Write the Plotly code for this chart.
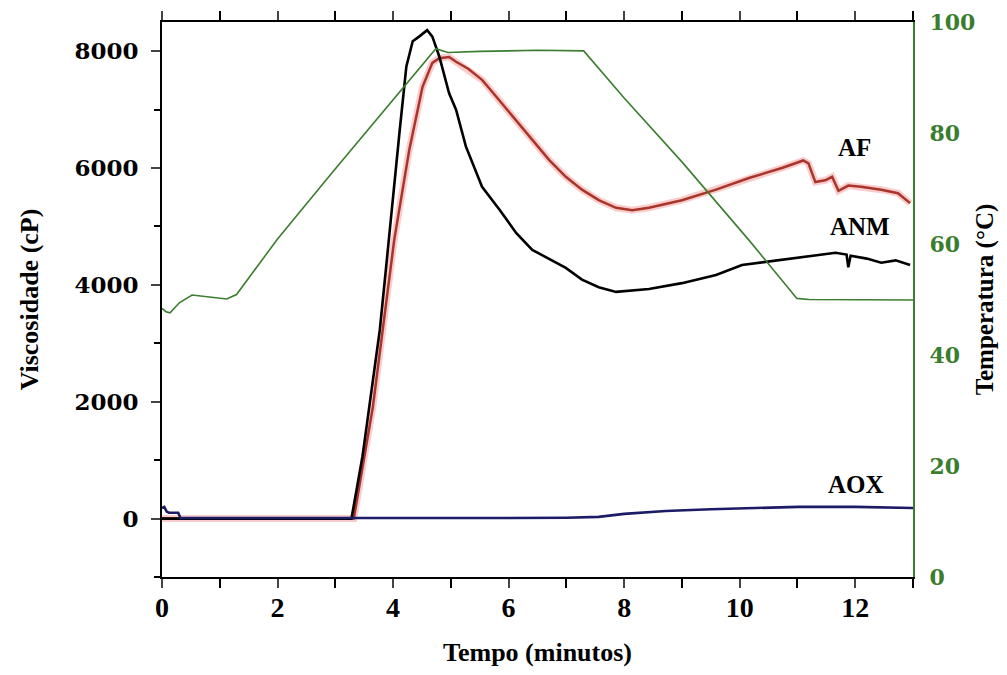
import plotly.graph_objects as go

# ---- data ----
t_temp = [0, 0.07, 0.14, 0.3, 0.52, 0.8, 1.12, 1.29, 2.0, 2.94, 4.0, 4.6, 4.74, 4.95, 5.5, 6.5, 7.3, 8.0, 9.0, 10.16, 10.99, 11.2, 12.0, 13.0]
temperatura = [48.4, 47.8, 47.6, 49.4, 50.8, 50.5, 50.1, 50.9, 60.9, 72.8, 86.0, 93.4, 95.2, 94.5, 94.7, 94.9, 94.8, 86.3, 74.8, 60.7, 50.2, 50.0, 49.9, 49.9]

t_anm = [0, 1, 2, 3, 3.28, 3.47, 3.59, 3.77, 3.88, 3.99, 4.11, 4.23, 4.34, 4.45, 4.59, 4.68, 4.80, 4.97, 5.09, 5.26, 5.43, 5.54, 5.84, 6.13, 6.41, 6.70, 6.99, 7.27, 7.56, 7.86, 8.43, 9.0, 9.59, 10.04, 10.73, 11.2, 11.66, 11.85, 11.88, 11.92, 12.2, 12.45, 12.7, 12.95]
anm = [0, 0, 0, 0, 0, 1060, 1910, 3230, 4310, 5450, 6600, 7740, 8170, 8250, 8360, 8250, 7910, 7280, 7000, 6370, 5970, 5680, 5290, 4890, 4600, 4450, 4290, 4090, 3960, 3880, 3930, 4030, 4170, 4340, 4430, 4500, 4550, 4520, 4300, 4500, 4450, 4380, 4420, 4340]

t_af = [0, 1, 2, 3, 3.32, 3.65, 3.82, 4.02, 4.28, 4.51, 4.68, 4.80, 4.97, 5.09, 5.3, 5.54, 5.66, 6.13, 6.70, 6.99, 7.27, 7.56, 7.86, 8.14, 8.43, 9.0, 9.59, 10.16, 10.73, 11.1, 11.19, 11.31, 11.48, 11.6, 11.71, 11.88, 12.1, 12.45, 12.74, 12.95]
af = [0, 0, 0, 0, 0, 1910, 3230, 4770, 6310, 7390, 7800, 7880, 7900, 7820, 7700, 7510, 7370, 6820, 6140, 5850, 5630, 5450, 5320, 5280, 5320, 5450, 5630, 5830, 6000, 6130, 6080, 5760, 5790, 5850, 5610, 5700, 5680, 5630, 5570, 5400]

t_aox = [0, 0.04, 0.08, 0.12, 0.28, 0.32, 2, 4, 6, 7, 7.56, 8.0, 8.72, 9.5, 10.2, 11.02, 12, 12.6, 13]
aox = [180, 200, 120, 100, 100, 10, 10, 5, 10, 15, 30, 80, 130, 160, 180, 200, 200, 190, 180]

x_ticks = [0, 2, 4, 6, 8, 10, 12]
y_ticks = [0, 2000, 4000, 6000, 8000]
y2_ticks = [0, 20, 40, 60, 80, 100]

labels = ["AF", "ANM", "AOX"]
label_x = [11.98, 12.09, 12.02]
label_y = [6346, 4993, 576]

SERIF = "Liberation Serif"
WIDE = "DejaVu Serif"
GREEN = "#3b7d2e"

fig = go.Figure()
fig.add_trace(go.Scatter(x=t_temp, y=temperatura, mode="lines", yaxis="y2",
                         line=dict(color=GREEN, width=1.6), showlegend=False))
fig.add_trace(go.Scatter(x=t_af, y=af, mode="lines",
                         line=dict(color="rgba(240,110,110,0.35)", width=7), showlegend=False))
fig.add_trace(go.Scatter(x=t_af, y=af, mode="lines",
                         line=dict(color="#a8352b", width=2.5), showlegend=False))
fig.add_trace(go.Scatter(x=t_anm, y=anm, mode="lines",
                         line=dict(color="#000000", width=2.6), showlegend=False))
fig.add_trace(go.Scatter(x=t_aox, y=aox, mode="lines",
                         line=dict(color="#1c1c66", width=2.6), showlegend=False))

for txt, lx, ly in zip(labels, label_x, label_y):
    fig.add_annotation(x=lx, y=ly, text=txt, showarrow=False,
                       font=dict(family=SERIF, size=25, color="black", weight="bold"))

fig.update_layout(
    width=991, height=659,
    margin=dict(l=154, r=86, t=14, b=90, autoexpand=False),
    paper_bgcolor="white", plot_bgcolor="white",
    xaxis=dict(range=[0, 13], tickvals=x_ticks, ticks="outside", ticklen=9, tickwidth=2,
               showline=True, linecolor="black", linewidth=2, mirror="allticks",
               showgrid=False, zeroline=False, ticklabelstandoff=-5, automargin=False,
               minor=dict(ticks="outside", dtick=1, ticklen=6, tickwidth=2, tickcolor="black"),
               tickfont=dict(family=SERIF, size=28, color="black", weight="bold"),
               title=dict(text="Tempo (minutos)", standoff=39,
                          font=dict(family=SERIF, size=26, color="black", weight="bold"))),
    yaxis=dict(range=[-1000, 8500], tickvals=y_ticks, ticks="outside", ticklen=9, tickwidth=2,
               showline=True, linecolor="black", linewidth=2,
               showgrid=False, zeroline=False, ticklabelstandoff=8, automargin=False,
               minor=dict(ticks="outside", dtick=1000, tick0=1000, ticklen=6, tickwidth=2, tickcolor="black"),
               tickfont=dict(family=WIDE, size=23, color="black", weight="bold"),
               title=dict(text="Viscosidade (cP)", standoff=28,
                          font=dict(family=SERIF, size=26, color="black", weight="bold"))),
    yaxis2=dict(range=[0, 100], tickvals=y2_ticks, overlaying="y", side="right",
                ticks="", showline=True, linecolor=GREEN, linewidth=2, automargin=False,
                showgrid=False, zeroline=False, ticklabelstandoff=10,
                tickfont=dict(family=WIDE, size=22, color=GREEN, weight="bold"),
                title=dict(text="Temperatura (°C)", standoff=12,
                           font=dict(family=SERIF, size=25, color="black", weight="bold"))),
)

fig.write_html("out.html")
